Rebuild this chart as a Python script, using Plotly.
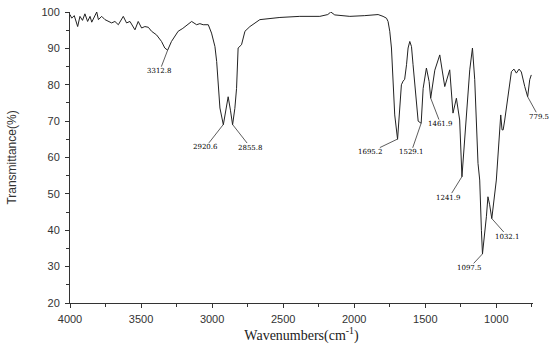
import numpy as np
import plotly.graph_objects as go

wavenumber = [4000, 3988, 3970, 3946, 3930, 3912, 3895, 3876, 3859, 3847, 3812, 3800, 3777, 3754,
               3707, 3684, 3660, 3625, 3602, 3578, 3543, 3520, 3496, 3473, 3449, 3426, 3391, 3356,
               3333, 3313, 3286, 3262, 3239, 3206, 3180, 3144, 3109, 3086, 3063, 3027, 3004, 2980,
               2968, 2957, 2945, 2921, 2903, 2887, 2871, 2856, 2840, 2828, 2817, 2793, 2769, 2734,
               2664, 2523, 2383, 2242, 2186, 2165, 2137, 2031, 1926, 1832, 1797, 1773, 1762, 1750,
               1738, 1727, 1715, 1695, 1680, 1668, 1656, 1645, 1632, 1621, 1609, 1597, 1586, 1562,
               1550, 1529, 1515, 1492, 1473, 1462, 1433, 1398, 1363, 1328, 1305, 1281, 1258, 1242,
               1210, 1187, 1168, 1152, 1129, 1117, 1105, 1097.5, 1070, 1059, 1047, 1032, 1000, 981,
               969, 960, 952, 941, 918, 894, 876, 859, 840, 824, 800, 779.5, 765, 754]
transmittance = [99.3, 98.3, 99.0, 96.0, 98.8, 97.7, 99.5, 97.4, 98.8, 97.2, 100.0, 97.9, 98.8, 97.9,
                 97.0, 97.4, 96.5, 98.8, 97.0, 97.4, 95.1, 97.4, 95.6, 96.0, 95.8, 94.7, 93.7, 91.9,
                 90.1, 89.5, 91.9, 93.5, 94.7, 95.5, 96.3, 97.4, 96.5, 96.8, 96.5, 96.5, 94.2, 90.5,
                 86.4, 80.0, 73.6, 69.0, 73.5, 76.7, 73.0, 69.0, 73.5, 79.0, 90.1, 91.0, 94.7, 96.0,
                 97.9, 98.5, 98.8, 98.8, 99.3, 100.0, 99.2, 98.8, 99.0, 99.3, 98.8, 98.3, 97.4, 94.7,
                 90.1, 79.0, 71.7, 65.0, 74.5, 80.0, 81.0, 81.5, 85.5, 90.1, 91.9, 90.5, 85.5, 76.3,
                 70.0, 69.4, 79.0, 84.6, 80.9, 76.3, 84.0, 88.2, 79.5, 84.1, 72.2, 76.3, 70.3, 54.7,
                 72.2, 84.1, 90.1, 81.4, 58.4, 53.8, 40.0, 33.5, 43.7, 49.2, 47.0, 43.2, 53.8, 65.7,
                 71.7, 67.6, 67.6, 70.3, 76.7, 83.6, 84.3, 83.2, 84.3, 83.5, 79.5, 76.7, 81.4, 82.7]

peak_labels = ["3312.8", "2920.6", "2855.8", "1695.2", "1529.1", "1461.9", "1241.9", "1097.5", "1032.1", "779.5"]
peak_wn = [3312.8, 2920.6, 2855.8, 1695.2, 1529.1, 1461.9, 1241.9, 1097.5, 1032.1, 779.5]
label_offsets = [(-8, 21), (-18, 23), (18, 23), (-27, 13), (-10, 29), (10, 26), (-13, 21), (-13, 14), (16, 18), (11, 20)]

x_ticks = [4000, 3500, 3000, 2500, 2000, 1500, 1000]
y_ticks = [20, 30, 40, 50, 60, 70, 80, 90, 100]

fig = go.Figure()
fig.add_trace(go.Scatter(x=wavenumber, y=transmittance, mode="lines",
                         line=dict(color="#222222", width=1), hoverinfo="skip", showlegend=False))

wn_rev = np.array(wavenumber[::-1], dtype=float)
t_rev = np.array(transmittance[::-1], dtype=float)
for lab, wn, (ax, ay) in zip(peak_labels, peak_wn, label_offsets):
    yv = float(np.interp(wn, wn_rev, t_rev))
    fig.add_annotation(x=wn, y=yv, text=lab, showarrow=True, arrowhead=0, arrowwidth=0.8,
                       arrowcolor="#333333", ax=ax, ay=ay, standoff=0, borderpad=0,
                       font=dict(family="DejaVu Serif", size=7, color="#000000"))

axis_common = dict(showline=True, linecolor="#333333", linewidth=1, ticks="outside",
                   ticklen=4, tickcolor="#333333", showgrid=False, zeroline=False,
                   automargin=False,
                   tickfont=dict(family="Liberation Sans", size=11, color="#333333"))

fig.update_xaxes(range=[4000, 742], tickvals=x_ticks, ticktext=[str(v) for v in x_ticks],
                 minor=dict(ticks="outside", dtick=250, tick0=0, ticklen=3, tickcolor="#333333"),
                 title=dict(text="Wavenumbers(cm<sup>-1</sup>)",
                            font=dict(family="Liberation Serif", size=14, color="#222222"), standoff=0),
                 ticklabelstandoff=2,
                 **axis_common)
fig.update_yaxes(range=[20, 100], tickvals=y_ticks, ticktext=[str(v) for v in y_ticks],
                 minor=dict(ticks="outside", dtick=5, tick0=0, ticklen=3, tickcolor="#333333"),
                 title=dict(text="Transmittance(%)",
                            font=dict(family="Liberation Sans", size=12, color="#333333"), standoff=22),
                 ticklabelstandoff=3,
                 **axis_common)

fig.update_layout(width=554, height=345, margin=dict(l=70, r=21, t=12, b=42),
                  plot_bgcolor="white", paper_bgcolor="white", showlegend=False)

fig.write_html("out.html", config={"displayModeBar": False},
               post_script="document.body.style.margin='0';document.body.style.padding='0';")
